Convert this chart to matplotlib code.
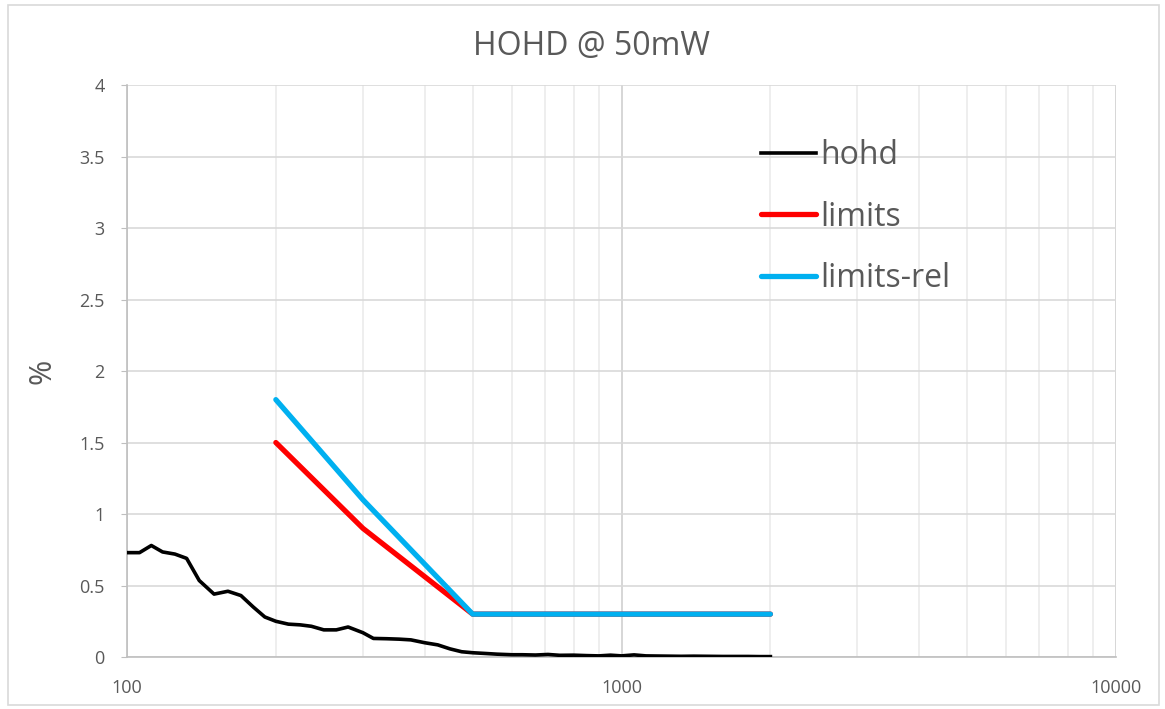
import matplotlib
matplotlib.use("Agg")
import matplotlib.pyplot as plt
from matplotlib.patches import Rectangle
from matplotlib.ticker import LogLocator, FixedLocator, NullFormatter

plt.rcParams['font.family'] = ['Open Sans', 'DejaVu Sans']

# hohd measurement (frequency in Hz, value in %)
freq = [100, 106, 112, 118, 125, 132, 140, 150, 160, 170, 180, 190, 200, 212,
        224, 236, 250, 265, 280, 300, 315, 335, 355, 375, 400, 425, 450, 475,
        500, 530, 560, 600, 630, 670, 710, 750, 800, 850, 900, 950, 1000, 1060,
        1120, 1180, 1250, 1320, 1400, 1500, 1600, 1700, 1800, 1900, 2000]
hohd = [0.73, 0.73, 0.78, 0.735, 0.72, 0.69, 0.535, 0.44, 0.46, 0.43, 0.35,
        0.28, 0.25, 0.23, 0.225, 0.215, 0.19, 0.19, 0.21, 0.17, 0.13, 0.128,
        0.125, 0.12, 0.10, 0.085, 0.057, 0.037, 0.03, 0.025, 0.02, 0.016,
        0.016, 0.014, 0.018, 0.012, 0.013, 0.01, 0.008, 0.013, 0.008, 0.015,
        0.008, 0.007, 0.006, 0.005, 0.006, 0.005, 0.004, 0.004, 0.004, 0.003,
        0.003]

# limit curves
lim_freq = [200, 300, 500, 2000]
limits = [1.5, 0.9, 0.3, 0.3]
limits_rel = [1.8, 1.1, 0.3, 0.3]

grey = '#595959'

fig = plt.figure(figsize=(11.65, 7.09), dpi=100)
fig.patches.append(Rectangle((0.007, 0.006), 0.988, 0.987, transform=fig.transFigure,
                             fill=False, edgecolor='#D9D9D9', linewidth=1.2))
ax = fig.add_axes([0.109, 0.0733, 0.849, 0.8067])

ax.plot(freq, hohd, color='black', linewidth=2.6, label='hohd', zorder=3)
ax.plot(lim_freq, limits, color='#FF0000', linewidth=3.8, label='limits',
        solid_capstyle='round', solid_joinstyle='round', zorder=4)
ax.plot(lim_freq, limits_rel, color='#00B0F0', linewidth=3.8, label='limits-rel',
        solid_capstyle='round', solid_joinstyle='round', zorder=5)

ax.set_xscale('log')
ax.set_xlim(100, 10000)
ax.set_ylim(0, 4)
ax.xaxis.set_major_locator(FixedLocator([100, 1000, 10000]))
ax.xaxis.set_minor_locator(LogLocator(base=10, subs=range(2, 10)))
ax.xaxis.set_minor_formatter(NullFormatter())
ax.set_xticklabels(['100', '1000', '10000'])
ax.set_yticks([0, 0.5, 1, 1.5, 2, 2.5, 3, 3.5, 4])
ax.set_yticklabels(['0', '0.5', '1', '1.5', '2', '2.5', '3', '3.5', '4'])

ax.grid(True, which='major', axis='x', color='#D0D0D0', linewidth=1.2)
ax.grid(True, which='minor', axis='x', color='#EBEBEB', linewidth=1.2)
ax.grid(True, which='major', axis='y', color='#D9D9D9', linewidth=1.2)

for s in ['top', 'right']:
    ax.spines[s].set_visible(False)
for s in ['left', 'bottom']:
    ax.spines[s].set_color('#BFBFBF')
    ax.spines[s].set_linewidth(1.2)

ax.tick_params(axis='y', which='major', length=4, color='#BFBFBF', labelsize=13,
               labelcolor=grey, pad=12)
ax.tick_params(axis='x', which='both', length=0, labelsize=13, labelcolor=grey, pad=16)

ax.set_ylabel('%', fontsize=22, color=grey, labelpad=16)
fig.text(0.508, 0.934, 'HOHD @ 50mW', fontsize=23, color=grey,
         ha='center', va='center')

leg = ax.legend(loc='upper left', bbox_to_anchor=(0.641, 0.906), frameon=False,
                fontsize=23, handlelength=1.72, handletextpad=0.12,
                labelspacing=0.9, borderpad=0, borderaxespad=0)
for t in leg.get_texts():
    t.set_color(grey)

fig.savefig('out.png', dpi=100)
